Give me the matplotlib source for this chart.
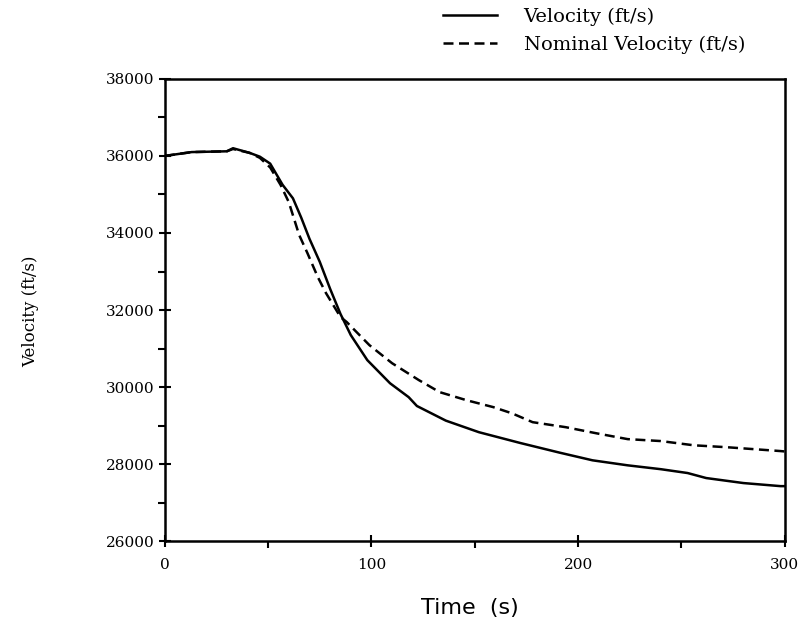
import numpy as np
import matplotlib.pyplot as plt

# solid: flown velocity
t_vel = [0, 13, 30, 33, 41, 46, 51, 57, 62, 66, 70, 75, 80, 85, 90, 98, 109, 118, 122,
         136, 152, 172, 191, 207, 224, 240, 253, 262, 280, 298, 300]
vel = [36000, 36100, 36120, 36200, 36080, 35980, 35800, 35250, 34900, 34400, 33850,
       33250, 32550, 31900, 31350, 30700, 30100, 29740, 29510, 29130, 28830, 28550,
       28300, 28100, 27970, 27870, 27770, 27640, 27510, 27430, 27430]

# dashed: nominal velocity
t_nom = [0, 13, 30, 33, 41, 46, 51, 56, 60, 65, 69, 74, 78, 85, 88, 99, 110, 123,
         133, 146, 159, 168, 178, 194, 209, 224, 240, 256, 272, 298, 300]
nom = [36000, 36100, 36120, 36180, 36080, 35950, 35700, 35250, 34800, 33950, 33480,
       32860, 32440, 31820, 31690, 31090, 30620, 30180, 29870, 29660, 29480, 29320,
       29090, 28960, 28800, 28650, 28600, 28490, 28440, 28340, 28330]

serif = ['DejaVu Serif']
sans = ['DejaVu Sans']

fig = plt.figure(figsize=(8.04, 6.36), dpi=100)
ax = fig.add_axes([0.205, 0.149, 0.771, 0.727])

l1, = ax.plot(t_vel, vel, color='black', lw=1.8)
l2, = ax.plot(t_nom, nom, color='black', lw=1.8, ls=(0, (4, 2.2)))

ax.set_xlim(0, 300)
ax.set_ylim(26000, 38000)
ax.set_xticks([0, 100, 200, 300])
ax.set_xticks([50, 150, 250], minor=True)
ax.set_yticks(np.arange(26000, 38001, 2000))
ax.set_yticks(np.arange(27000, 38000, 2000), minor=True)

for s in ax.spines.values():
    s.set_linewidth(1.8)
ax.tick_params(which='major', direction='inout', length=8, width=1.5)
ax.tick_params(which='minor', direction='out', length=5, width=1.5)
for lab in ax.get_xticklabels() + ax.get_yticklabels():
    lab.set_family(serif)
    lab.set_fontsize(11)
ax.tick_params(axis='x', pad=8)

fig.text(0.038, 0.51, 'Velocity (ft/s)', rotation=90, ha='center', va='center',
         family=serif, fontsize=12)
fig.text(0.585, 0.044, 'Time  (s)', ha='center', va='center', family=sans, fontsize=16)

fig.legend([l1, l2], ['Velocity (ft/s)', 'Nominal Velocity (ft/s)'],
           loc='upper left', bbox_to_anchor=(0.529, 1.015), frameon=False,
           handlelength=2.8, handletextpad=1.35, labelspacing=0.5,
           prop={'family': serif, 'size': 14})

fig.savefig('out.png', dpi=100)
